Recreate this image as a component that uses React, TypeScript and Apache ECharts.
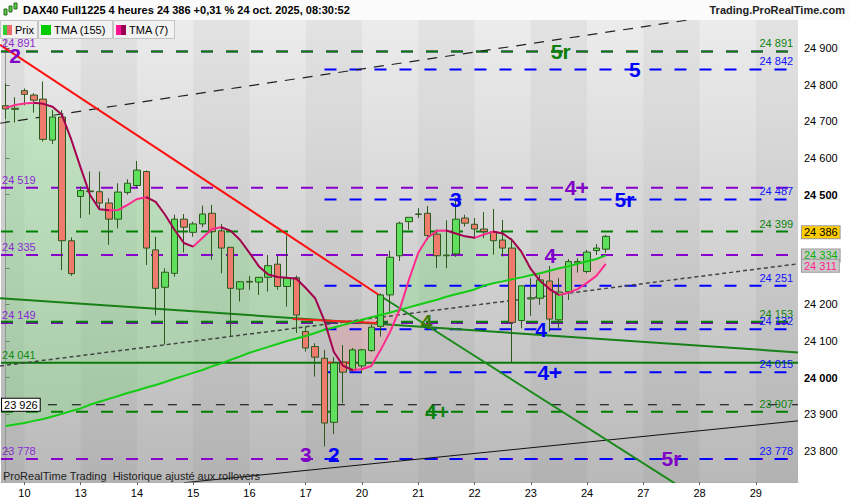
import React, { useEffect, useRef } from 'react';
import * as echarts from 'echarts';

const FONT = '"Liberation Sans", Arial, Helvetica, sans-serif';

// ---------- data ----------
const dayLabels = ['10', '13', '14', '15', '16', '17', '20', '21', '22', '23', '24', '27', '28', '29'];
const slotCount = 85;
const firstDaySlot = 2;
const barsPerDay = 6;

const opens = [24743, 24736, 24784, 24772, 24761, 24649, 24712, 24374, 24495, 24510, 24508, 24477, 24433, 24506, 24525, 24563, 24349, 24247, 24285, 24433, 24397, 24420, 24449, 24401, 24356, 24242, 24263, 24261, 24274, 24310, 24249, 24273, 24126, 24085, 24053, 23878, 24042, 24019, 24032, 24074, 24140, 24226, 24333, 24426, 24446, 24449, 24392, 24333, 24338, 24436, 24419, 24406, 24399, 24376, 24354, 24156, 24215, 24217, 24264, 24158, 24235, 24313, 24290, 24347, 24351];
const highs = [24804, 24766, 24790, 24777, 24809, 24731, 24731, 24383, 24522, 24563, 24563, 24490, 24531, 24542, 24592, 24566, 24385, 24299, 24445, 24447, 24426, 24470, 24472, 24420, 24356, 24264, 24278, 24275, 24335, 24333, 24388, 24279, 24140, 24094, 24076, 24056, 24089, 24081, 24079, 24144, 24230, 24347, 24426, 24438, 24463, 24469, 24405, 24430, 24492, 24445, 24436, 24452, 24461, 24431, 24381, 24251, 24272, 24281, 24305, 24272, 24324, 24326, 24349, 24365, 24390];
const lows = [24707, 24697, 24744, 24724, 24645, 24638, 24294, 24278, 24436, 24445, 24458, 24363, 24408, 24500, 24520, 24308, 24170, 24090, 24276, 24342, 24385, 24411, 24322, 24285, 24112, 24208, 24240, 24226, 24235, 24240, 24194, 24122, 24071, 24003, 23812, 23846, 23930, 24017, 24012, 24071, 24112, 24180, 24319, 24404, 24436, 24376, 24299, 24299, 24330, 24413, 24385, 24381, 24336, 24331, 24042, 24135, 24169, 24199, 24126, 24135, 24212, 24287, 24285, 24335, 24341];
const closes = [24734, 24733, 24774, 24758, 24651, 24712, 24374, 24284, 24511, 24508, 24477, 24433, 24507, 24531, 24567, 24354, 24244, 24288, 24433, 24411, 24420, 24447, 24399, 24354, 24244, 24262, 24261, 24274, 24306, 24249, 24272, 24171, 24081, 24056, 23876, 24040, 24015, 24076, 24076, 24138, 24226, 24329, 24422, 24438, 24447, 24388, 24333, 24335, 24433, 24422, 24406, 24399, 24374, 24354, 24151, 24251, 24218, 24267, 24160, 24234, 24317, 24317, 24343, 24354, 24386];

const tma155 = [23868, 23872, 23876, 23882, 23887, 23894, 23901, 23909, 23916, 23926, 23934, 23942, 23950, 23958, 23965, 23973, 23980, 23988, 23997, 24005, 24013, 24021, 24031, 24039, 24049, 24058, 24068, 24076, 24084, 24092, 24100, 24107, 24114, 24122, 24131, 24137, 24144, 24151, 24158, 24165, 24171, 24178, 24185, 24192, 24199, 24206, 24213, 24221, 24228, 24234, 24241, 24251, 24258, 24263, 24269, 24274, 24280, 24285, 24292, 24299, 24304, 24311, 24318, 24324, 24334];
const tma7 = [24737, 24745, 24749, 24751, 24748, 24740, 24718, 24650, 24573, 24499, 24460, 24457, 24458, 24472, 24488, 24493, 24480, 24445, 24404, 24368, 24358, 24382, 24406, 24411, 24401, 24376, 24341, 24304, 24282, 24275, 24273, 24270, 24245, 24217, 24155, 24070, 24032, 24021, 24023, 24032, 24076, 24125, 24185, 24267, 24341, 24382, 24401, 24402, 24394, 24386, 24382, 24391, 24399, 24394, 24376, 24344, 24297, 24264, 24242, 24226, 24232, 24242, 24259, 24278, 24311];

const purpleLevels = [24891, 24519, 24335, 24149, 23778];
const greenLevels = [24891, 24399, 24153, 23907];
const blueLevels = [24842, 24487, 24251, 24132, 24015, 23778];
const supportLevel = 24041;
const blackLevel = 23926;
const blueStart = 34;
const blackStart = 4.5;

const redTrend = [[-0.6, 24909], [40.1, 24221]];
const redShort = [[30.6, 24160], [39.6, 24149]];
const redMarksA = [[34, 24041], [34.9, 24041]];
const redMarksB = [[36, 24041], [37, 24041]];
const greenSteep = [[40.1, 24221], [72, 23701]];
const greenLong = [[-0.6, 24217], [84.5, 24069]];
const blackRise = [[19, 23713], [84.5, 23882]];
const blackDashTop = [[-0.6, 24695], [84.5, 25022]];
const grayDash = [[-0.6, 24032], [84.5, 24311]];

const waveText = ['2', '5r', '5', '4+', '5r', '3', '4', '4', '4', '4+', '4+', '3', '2', '5r'];
const waveSlot = [1.0, 59.2, 67.1, 60.9, 66.0, 48.0, 58.1, 44.9, 57.1, 58.0, 46.0, 32.0, 35.0, 71.0];
const waveValue = [24880, 24891, 24842, 24519, 24487, 24487, 24335, 24153, 24132, 24015, 23907, 23790, 23790, 23778];
const waveKind = ['p', 'g', 'b', 'p', 'b', 'b', 'p', 'o', 'b', 'b', 'g', 'p', 'b', 'p'];

const lastPrice = 24386;
const lastTma155 = 24334;
const lastTma7 = 24311;

const yMin = 23715;
const yMax = 24977;
const yTicks = [23800, 23900, 24000, 24100, 24200, 24300, 24400, 24500, 24600, 24700, 24800, 24900];

// ---------- styles ----------
const PURPLE = '#8800cc';
const GREEN = '#008000';
const BLUE = '#0000ff';
const kindColor: Record<string, string> = { p: '#8000c8', g: '#0a800a', b: '#0000ff', o: '#3f7a00' };

const fmt = (v: number) => String(Math.round(v)).replace(/\B(?=(\d{3})+(?!\d))/g, ' ');

function buildOption() {
  const xStart = -0.5;
  const xEnd = slotCount - 0.5;
  const cats = Array.from({ length: slotCount }, (_, k) => {
    const j = (k - firstDaySlot) / barsPerDay;
    return Number.isInteger(j) && j >= 0 && j < dayLabels.length ? dayLabels[j] : '';
  });

  const series: any[] = [];

  // day bands
  const bounds: number[] = [xStart];
  for (let b = firstDaySlot; b < xEnd; b += barsPerDay) bounds.push(b);
  bounds.push(xEnd);
  const bands: any[] = [];
  for (let d = 0; d < bounds.length - 1; d++) {
    if (d % 2 === 0) bands.push([{ xAxis: bounds[d] }, { xAxis: bounds[d + 1] }]);
  }
  series.push({
    type: 'line', xAxisIndex: 1, yAxisIndex: 0, data: [[xStart, yMin]], symbol: 'none', silent: true,
    lineStyle: { opacity: 0, width: 0 }, z: 0,
    markArea: { silent: true, itemStyle: { color: 'rgba(0,0,0,0.035)' }, data: bands },
  });

  // fill between averages
  const base = tma7.map((v, i) => Math.min(v, tma155[i]));
  const bull = tma7.map((v, i) => Math.max(v - tma155[i], 0));
  const bear = tma7.map((v, i) => Math.max(tma155[i] - v, 0));
  const fillCommon = {
    type: 'line', xAxisIndex: 0, yAxisIndex: 0, stack: 'tmaFill', symbol: 'none', silent: true,
    lineStyle: { width: 0, opacity: 0 }, z: 1,
  };
  series.push({ ...fillCommon, data: base });
  series.push({ ...fillCommon, data: bull, areaStyle: { color: 'rgba(115,230,115,0.42)' } });
  series.push({ ...fillCommon, data: bear, areaStyle: { color: 'rgba(250,140,150,0.38)' } });

  // horizontal levels
  const hLine = (val: number, x0: number, color: string, width: number, type: any) => ({
    type: 'line', xAxisIndex: 1, yAxisIndex: 0, data: [[x0, val], [xEnd, val]], symbol: 'none', silent: true,
    lineStyle: { color, width, type }, z: 2,
  });
  purpleLevels.forEach((v) => series.push(hLine(v, xStart, PURPLE, 2, [12, 13])));
  greenLevels.forEach((v) => series.push(hLine(v, xStart, GREEN, 2, [12, 13])));
  blueLevels.forEach((v) => series.push(hLine(v, blueStart, BLUE, 2, [12, 13])));
  series.push(hLine(supportLevel, xStart, '#0b780b', 2, 'solid'));
  series.push(hLine(blackLevel, blackStart, '#000', 1, [9, 15]));

  // trend lines
  const seg = (pts: number[][], color: string, width: number, type: any = 'solid') => ({
    type: 'line', xAxisIndex: 1, yAxisIndex: 0, data: pts, symbol: 'none', silent: true,
    lineStyle: { color, width, type }, z: 3,
  });
  series.push(seg(blackRise, '#111', 1));
  series.push(seg(blackDashTop, '#222', 1.2, [10, 8]));
  series.push(seg(grayDash, '#444', 1.5, [4, 3]));
  series.push(seg(greenLong, '#178017', 2));
  series.push(seg(greenSteep, '#1a8a1a', 2));
  series.push(seg(redTrend, '#ff1010', 2));
  series.push(seg(redShort, '#ff2020', 2));
  series.push(seg(redMarksA, '#ff2020', 2));
  series.push(seg(redMarksB, '#ff2020', 2));

  // candles
  const tag = (value: number, text: string, color: string, bg: string, dy: number) => ({
    yAxis: value,
    label: {
      show: true, position: 'end', distance: 4, formatter: text, color, backgroundColor: bg,
      borderColor: '#9a9a9a', borderWidth: 1, padding: [1, 2, 0, 2], fontSize: 11, fontFamily: FONT,
      offset: [0, dy],
    },
  });
  series.push({
    type: 'candlestick', xAxisIndex: 0, yAxisIndex: 0,
    data: opens.map((o, i) => [o, closes[i], lows[i], highs[i]]),
    barWidth: 7,
    itemStyle: { color: '#5ee05e', color0: '#ef7b6e', borderColor: '#2c5a1c', borderColor0: '#2c5a1c', borderWidth: 1 },
    z: 4,
    markLine: {
      silent: true, symbol: ['none', 'none'], lineStyle: { width: 0, color: 'transparent' },
      data: [
        tag(lastPrice, fmt(lastPrice), '#000', '#ffcc00', -4),
        tag(lastTma155, fmt(lastTma155), '#00b000', '#c9c9c9', 0),
        tag(lastTma7, fmt(lastTma7), '#ff1f8a', '#c9c9c9', 2),
      ],
    },
  });

  // averages
  series.push({
    type: 'line', xAxisIndex: 0, yAxisIndex: 0, data: tma155, symbol: 'none', silent: true,
    lineStyle: { color: '#14cc14', width: 2 }, z: 5,
  });
  const tma7Index = series.length;
  series.push({
    type: 'line', xAxisIndex: 0, yAxisIndex: 0, data: tma7, symbol: 'none', silent: true,
    lineStyle: { width: 2 }, z: 6,
  });
  const pieces: any[] = [];
  for (let i = 1; i < tma7.length; i++) {
    const color = tma7[i] >= tma7[i - 1] ? '#ff2a8e' : '#a3004f';
    pieces.push(i === 1 ? { gte: 0, lte: 1, color } : { gt: i - 1, lte: i, color });
  }

  // level labels
  const scatterBase = {
    type: 'scatter', xAxisIndex: 1, yAxisIndex: 0, symbolSize: 0.1, silent: true,
    itemStyle: { color: 'transparent', opacity: 1 },
  };
  const leftItems: any[] = [];
  purpleLevels.forEach((v) => leftItems.push({ value: [xStart, v], label: { formatter: fmt(v), color: '#8a2ad0' } }));
  leftItems.push({ value: [xStart, supportLevel], label: { formatter: fmt(supportLevel), color: '#0e8a0e' } });
  leftItems.push({
    value: [xStart, blackLevel],
    label: {
      formatter: fmt(blackLevel), color: '#000', backgroundColor: '#fff', borderColor: '#000', borderWidth: 1,
      padding: [1, 2, 0, 2], offset: [0, 0],
    },
  });
  series.push({
    ...scatterBase, data: leftItems, z: 7,
    label: { show: true, opacity: 1, position: 'right', distance: 1, offset: [0, -8], fontSize: 11, fontFamily: FONT },
  });
  const rightItems: any[] = [];
  greenLevels.forEach((v) => rightItems.push({ value: [xEnd - 0.3, v], label: { formatter: fmt(v), color: '#0e820e' } }));
  blueLevels.forEach((v) => rightItems.push({ value: [xEnd - 0.3, v], label: { formatter: fmt(v), color: '#1010ff' } }));
  series.push({
    ...scatterBase, data: rightItems, z: 7,
    label: { show: true, opacity: 1, position: 'left', distance: 2, offset: [0, -8], fontSize: 11, fontFamily: FONT },
  });

  // wave labels
  series.push({
    ...scatterBase, z: 8,
    data: waveText.map((t, i) => ({
      value: [waveSlot[i], waveValue[i]],
      label: { formatter: t, color: kindColor[waveKind[i]] },
    })),
    label: { show: true, opacity: 1, position: 'inside', fontSize: 21, fontWeight: 'bold', fontFamily: FONT },
  });

  const graphic: any[] = [
    { type: 'rect', shape: { x: 0, y: 0, width: 850, height: 20 }, style: { fill: '#fbfbfb' }, z: 100 },
    // icon
    { type: 'rect', shape: { x: 4, y: 9, width: 3, height: 6 }, style: { fill: '#55cc44', stroke: '#2c6a1c', lineWidth: 1 }, z: 101 },
    { type: 'rect', shape: { x: 9, y: 6, width: 3, height: 6 }, style: { fill: '#55cc44', stroke: '#2c6a1c', lineWidth: 1 }, z: 101 },
    { type: 'rect', shape: { x: 14, y: 3, width: 3, height: 6 }, style: { fill: '#55cc44', stroke: '#2c6a1c', lineWidth: 1 }, z: 101 },
    {
      type: 'text', x: 23, y: 10, z: 101,
      style: { text: 'DAX40 Full1225 4 heures 24 386 +0,31 % 24 oct. 2025, 08:30:52', font: `bold 11px ${FONT}`, fill: '#000', verticalAlign: 'middle' },
    },
    {
      type: 'text', x: 845, y: 10, z: 101,
      style: { text: 'Trading.ProRealTime.com', font: `bold 11px ${FONT}`, fill: '#222', align: 'right', verticalAlign: 'middle' },
    },
    // legend
    { type: 'rect', shape: { x: 0.5, y: 20.5, width: 37, height: 18 }, style: { fill: '#f2f2f2', stroke: '#c4c4c4' }, z: 101 },
    { type: 'rect', shape: { x: 3, y: 25, width: 4, height: 10 }, style: { fill: '#33cc33' }, z: 102 },
    { type: 'rect', shape: { x: 7, y: 25, width: 5, height: 10 }, style: { fill: '#ee6a6a' }, z: 102 },
    { type: 'text', x: 15, y: 30, z: 102, style: { text: 'Prix', font: `11px ${FONT}`, fill: '#000', verticalAlign: 'middle' } },
    { type: 'rect', shape: { x: 38.5, y: 20.5, width: 74, height: 18 }, style: { fill: '#f2f2f2', stroke: '#c4c4c4' }, z: 101 },
    { type: 'rect', shape: { x: 41, y: 25, width: 10, height: 10 }, style: { fill: '#00cc00' }, z: 102 },
    { type: 'text', x: 54, y: 30, z: 102, style: { text: 'TMA (155)', font: `11px ${FONT}`, fill: '#000', verticalAlign: 'middle' } },
    { type: 'rect', shape: { x: 113.5, y: 20.5, width: 61, height: 18 }, style: { fill: '#f2f2f2', stroke: '#c4c4c4' }, z: 101 },
    { type: 'rect', shape: { x: 116, y: 25, width: 5, height: 10 }, style: { fill: '#ff1493' }, z: 102 },
    { type: 'rect', shape: { x: 121, y: 25, width: 5, height: 10 }, style: { fill: '#990055' }, z: 102 },
    { type: 'text', x: 129, y: 30, z: 102, style: { text: 'TMA (7)', font: `11px ${FONT}`, fill: '#000', verticalAlign: 'middle' } },
    {
      type: 'text', x: 3, y: 476, z: 101,
      style: { text: 'ProRealTime Trading  Historique ajusté aux rollovers', font: `11px ${FONT}`, fill: '#222', verticalAlign: 'middle' },
    },
  ];

  return {
    animation: false,
    backgroundColor: '#ffffff',
    textStyle: { fontFamily: FONT },
    grid: {
      left: 1, right: 52, top: 20, bottom: 18, show: true, borderWidth: 0, outerBoundsMode: 'none',
      backgroundColor: new echarts.graphic.LinearGradient(0, 0, 0, 1, [
        { offset: 0, color: '#ececec' },
        { offset: 1, color: '#b9b9b9' },
      ]),
    },
    visualMap: [{ type: 'piecewise', show: false, dimension: 0, seriesIndex: tma7Index, pieces, outOfRange: { color: '#ff2a8e' } }],
    xAxis: [
      {
        type: 'category', data: cats, boundaryGap: true, gridIndex: 0,
        axisLine: { show: true, lineStyle: { color: '#b0b0b0' } },
        axisTick: { show: true, interval: (_i: number, v: string) => v !== '', alignWithLabel: true, length: 3, lineStyle: { color: '#666' } },
        axisLabel: { interval: (_i: number, v: string) => v !== '', color: '#000', fontSize: 11, margin: 5, fontFamily: FONT },
        splitLine: { show: false },
      },
      { type: 'value', min: -0.5, max: slotCount - 0.5, show: false, gridIndex: 0 },
    ],
    yAxis: [
      {
        type: 'value', position: 'right', min: yMin, max: yMax, gridIndex: 0,
        splitLine: { show: false },
        axisLine: { show: true, lineStyle: { color: '#999' } },
        axisTick: { show: true, customValues: yTicks, length: 4, lineStyle: { color: '#666' } },
        axisLabel: {
          customValues: yTicks, color: '#000', fontSize: 11, margin: 6, fontFamily: FONT,
          formatter: (v: number) => (v % 500 === 0 ? `{b|${fmt(v)}}` : fmt(v)),
          rich: { b: { fontWeight: 'bold', fontSize: 11, color: '#000', fontFamily: FONT } },
        },
      },
    ],
    series,
    graphic,
  };
}

export default function App() {
  const ref = useRef<HTMLDivElement>(null);
  useEffect(() => {
    if (!ref.current) return;
    const chart = echarts.init(ref.current, null, { renderer: 'svg' });
    chart.setOption(buildOption() as any);
    return () => chart.dispose();
  }, []);
  return <div ref={ref} style={{ position: 'absolute', left: 0, top: 0, width: 850, height: 500, background: '#fff' }} />;
}
